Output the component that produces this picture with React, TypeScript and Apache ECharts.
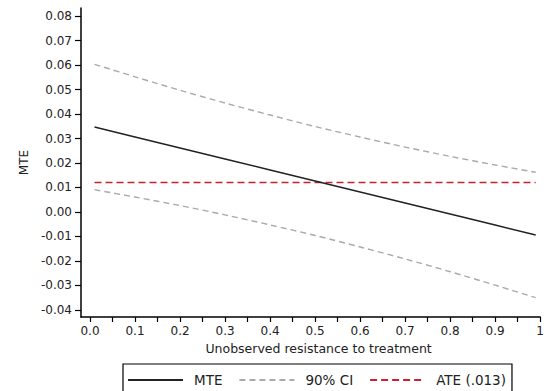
import React, { useEffect, useRef } from "react";
import * as echarts from "echarts";

// Estimated values
const xPoints = [0.01, 0.1, 0.2, 0.3, 0.4, 0.5, 0.6, 0.7, 0.8, 0.9, 0.99];
const mteValues = [0.0347, 0.03065, 0.02615, 0.02165, 0.01715, 0.01265, 0.00815, 0.00365, -0.00085, -0.00535, -0.0094];
const ciUpper = [0.0603, 0.0552, 0.0497, 0.0445, 0.0396, 0.0349, 0.0306, 0.0265, 0.0227, 0.0192, 0.0162];
const ciLower = [0.0091, 0.0061, 0.0026, -0.0012, -0.0053, -0.0096, -0.0143, -0.0192, -0.0244, -0.0299, -0.035];
const ateValue = 0.012;
const ateRange = [0.01, 0.99];

const xTickLabels = [0, 0.1, 0.2, 0.3, 0.4, 0.5, 0.6, 0.7, 0.8, 0.9, 1];
const xMinorTicks = [0.05, 0.15, 0.25, 0.35, 0.45, 0.55, 0.65, 0.75, 0.85, 0.95];
const yTickLabels = [-0.04, -0.03, -0.02, -0.01, 0, 0.01, 0.02, 0.03, 0.04, 0.05, 0.06, 0.07, 0.08];

const seriesNames = ["MTE", "90% CI", "ATE (.013)"];
const xTitle = "Unobserved resistance to treatment";
const yTitle = "MTE";

const FONT = "DejaVu Sans";

export default function App() {
  const ref = useRef<HTMLDivElement>(null);

  useEffect(() => {
    if (!ref.current) return;
    const chart = echarts.init(ref.current, null, { renderer: "svg" });
    const pair = (ys: number[]) => xPoints.map((x, i) => [x, ys[i]]);
    const ciStyle = { color: "#aaaaaa", width: 1.4, type: [6, 4] as number[] };
    chart.setOption({
      animation: false,
      backgroundColor: "#ffffff",
      grid: { left: 81, top: 8, right: -3, bottom: 74, containLabel: false },
      legend: {
        left: 123,
        top: 364,
        orient: "horizontal",
        data: seriesNames,
        itemWidth: 55,
        itemHeight: 12,
        itemGap: 16,
        padding: [9, 6, 12, 4],
        borderColor: "#000000",
        borderWidth: 1.2,
        borderRadius: 0,
        itemStyle: { opacity: 0 },
        textStyle: { fontFamily: FONT, fontSize: 13.5, color: "#222", padding: [0, 0, 0, 6] },
      },
      xAxis: {
        type: "value",
        min: -0.02,
        max: 1,
        name: xTitle,
        nameLocation: "middle",
        nameGap: 25,
        nameTextStyle: { fontFamily: FONT, fontSize: 12.5, color: "#222", padding: [0, 0, 0, 16] },
        axisLine: { show: true, onZero: false, lineStyle: { color: "#000", width: 1.5 } },
        axisTick: {
          show: true,
          inside: false,
          length: 5,
          customValues: [...xTickLabels, ...xMinorTicks],
          lineStyle: { color: "#000", width: 1.2 },
        },
        axisLabel: {
          customValues: xTickLabels,
          fontFamily: FONT,
          fontSize: 12,
          color: "#222",
          margin: 8,
          formatter: (v: number) => (v === 1 ? "1" : v.toFixed(1)),
        },
        splitLine: { show: false },
      },
      yAxis: {
        type: "value",
        min: -0.0429,
        max: 0.0833,
        name: yTitle,
        nameLocation: "middle",
        nameGap: 50,
        nameTextStyle: { fontFamily: FONT, fontSize: 12, color: "#222" },
        axisLine: { show: true, onZero: false, lineStyle: { color: "#000", width: 1.5 } },
        axisTick: {
          show: true,
          inside: false,
          length: 6,
          customValues: yTickLabels,
          lineStyle: { color: "#000", width: 1.2 },
        },
        axisLabel: {
          customValues: yTickLabels,
          fontFamily: FONT,
          fontSize: 12,
          color: "#222",
          margin: 9,
          formatter: (v: number) => v.toFixed(2),
        },
        splitLine: { show: false },
      },
      series: [
        {
          name: seriesNames[0],
          type: "line",
          data: pair(mteValues),
          symbol: "none",
          lineStyle: { color: "#222222", width: 1.5, type: "solid" },
          itemStyle: { color: "#222222" },
          z: 4,
        },
        {
          name: seriesNames[1],
          type: "line",
          data: pair(ciUpper),
          symbol: "none",
          smooth: 0.3,
          lineStyle: ciStyle,
          itemStyle: { color: "#aaaaaa" },
          z: 2,
        },
        {
          name: seriesNames[1],
          type: "line",
          data: pair(ciLower),
          symbol: "none",
          smooth: 0.3,
          lineStyle: ciStyle,
          itemStyle: { color: "#aaaaaa" },
          z: 2,
        },
        {
          name: seriesNames[2],
          type: "line",
          data: ateRange.map((x) => [x, ateValue]),
          symbol: "none",
          lineStyle: { color: "#cc2030", width: 1.5, type: [7, 4] },
          itemStyle: { color: "#cc2030" },
          z: 3,
        },
      ],
    });
    return () => chart.dispose();
  }, []);

  return <div ref={ref} style={{ width: 547, height: 391, position: "absolute", left: 0, top: 0 }} />;
}
